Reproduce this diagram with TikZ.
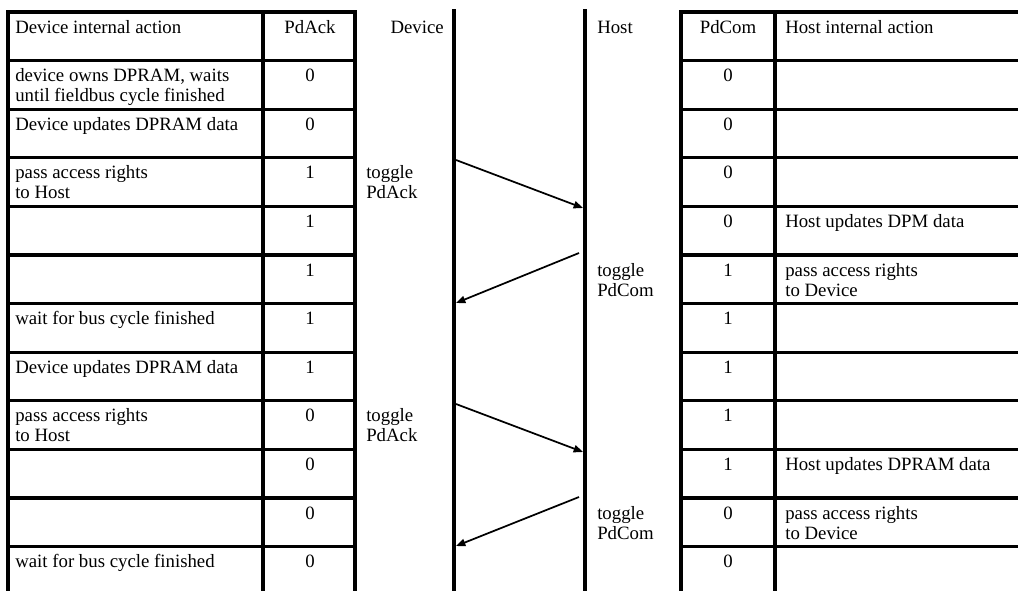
\documentclass[tikz,border=0pt]{standalone}
\usepackage{fontspec}
\setmainfont{Liberation Serif}
\usetikzlibrary{arrows.meta}
\begin{document}
\begin{tikzpicture}[x=0.75pt,y=-0.75pt,
  tline/.style={line width=2.3pt,line cap=rect},
  life/.style={line width=3pt},
  msg/.style={line width=1.3pt,-{Triangle[length=7pt,width=5.5pt]}},
  txt/.style={inner sep=0pt,font=\fontsize{14.1}{15}\selectfont,align=left},
  ctxt/.style={inner sep=0pt,font=\fontsize{14.1}{15}\selectfont,align=center}]
\useasboundingbox (0,0) rectangle (1018,590);
% left table
\draw[tline] (8,12) -- (355,12);
\draw[tline] (8,12) -- (8,592);
\draw[tline] (263,12) -- (263,592);
\draw[tline] (355,12) -- (355,592);
\foreach \k in {1,...,11} {
  \draw[tline] (8,12+48.6*\k) -- (355,12+48.6*\k);
}
% right table
\draw[tline] (681,12) -- (1020,12);
\draw[tline] (681,12) -- (681,592);
\draw[tline] (775,12) -- (775,592);
\foreach \k in {1,...,11} {
  \draw[tline] (681,12+48.6*\k) -- (1020,12+48.6*\k);
}
% lifelines
\coordinate (devtop) at (454,9);
\coordinate (devbot) at (454,592);
\coordinate (hosttop) at (585,9);
\coordinate (hostbot) at (585,592);
\draw[life] (devtop) -- (devbot);
\draw[life] (hosttop) -- (hostbot);
% headers
\node[txt,anchor=base west] (hdact) at (15,33) {Device internal action};
\node[ctxt,anchor=base] (hdack) at (310,33) {PdAck};
\node[txt,anchor=base east] (hdev) at (444,33) {Device};
\node[txt,anchor=base west] (hhost) at (597,33) {Host};
\node[ctxt,anchor=base] (hdcom) at (728,33) {PdCom};
\node[txt,anchor=base west] (hhact) at (785,33) {Host internal action};
% left column actions (single line)
\foreach \k/\t in {2/{Device updates DPRAM data},
  6/{wait for bus cycle finished},7/{Device updates DPRAM data},
  11/{wait for bus cycle finished}} {
  \node[txt,anchor=base west] (da\k) at (15,33+48.6*\k) {\t};
}
% left column actions (two lines; base = last line)
\foreach \k/\t in {1/{device owns DPRAM, waits\\until fieldbus cycle finished},
  3/{pass access rights\\to Host},8/{pass access rights\\to Host}} {
  \node[txt,anchor=base west] (da\k) at (15,33+20+48.6*\k) {\t};
}
\foreach \k/\v in {1/0,2/0,3/1,4/1,5/1,6/1,7/1,8/0,9/0,10/0,11/0} {
  \node[ctxt,anchor=base] (ack\k) at (310,33+48.6*\k) {\v};
}
\foreach \k/\v in {1/0,2/0,3/0,4/0,5/1,6/1,7/1,8/1,9/1,10/0,11/0} {
  \node[ctxt,anchor=base] (com\k) at (728,33+48.6*\k) {\v};
}
\foreach \k/\t in {4/{Host updates DPM data},9/{Host updates DPRAM data}} {
  \node[txt,anchor=base west] (ha\k) at (785,33+48.6*\k) {\t};
}
\foreach \k/\t in {5/{pass access rights\\to Device},10/{pass access rights\\to Device}} {
  \node[txt,anchor=base west] (ha\k) at (785,33+20+48.6*\k) {\t};
}
% toggle labels
\node[txt,anchor=base west] (tga1) at (366,33+20+48.6*3) {toggle\\PdAck};
\node[txt,anchor=base west] (tga2) at (366,33+20+48.6*8) {toggle\\PdAck};
\node[txt,anchor=base west] (tgc1) at (597,33+20+48.6*5) {toggle\\PdCom};
\node[txt,anchor=base west] (tgc2) at (597,33+20+48.6*10) {toggle\\PdCom};
% messages
\coordinate (m1s) at (456,160);
\coordinate (m1e) at (583,208);
\coordinate (m2s) at (579,253);
\coordinate (m2e) at (456,303);
\coordinate (m3s) at (456,404);
\coordinate (m3e) at (583,452);
\coordinate (m4s) at (579,497);
\coordinate (m4e) at (456,546);
\draw[msg] (m1s) -- (m1e);
\draw[msg] (m2s) -- (m2e);
\draw[msg] (m3s) -- (m3e);
\draw[msg] (m4s) -- (m4e);
\end{tikzpicture}
\end{document}
